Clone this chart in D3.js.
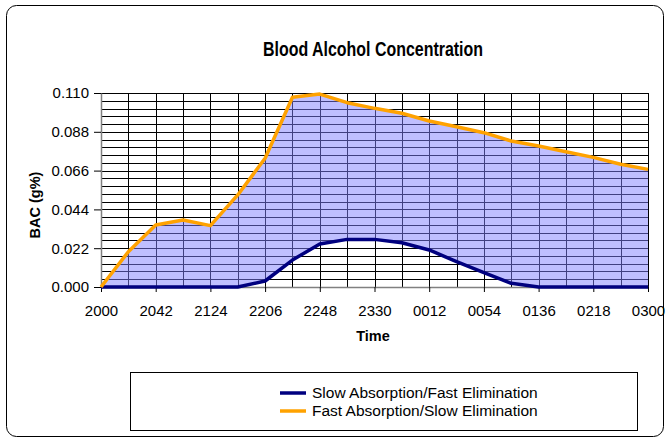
<!DOCTYPE html>
<html>
<head>
<meta charset="utf-8">
<script src="https://cdn.jsdelivr.net/npm/d3@7"></script>
<style>
  html, body { margin: 0; padding: 0; background: #fff; }
  svg { display: block; font-family: "Liberation Sans", Arial, sans-serif; }
</style>
</head>
<body>
<svg id="chart" width="668" height="441"></svg>
<script>
// categories (every 21 minutes from 2000 to 0300)
const times = ['2000', '2021', '2042', '2103', '2124', '2145', '2206', '2227', '2248', '2309',
               '2330', '2351', '0012', '0033', '0054', '0115', '0136', '0157', '0218', '0239', '0300'];

// series values (BAC g%)
const slowAbsFastElim = [0, 0, 0, 0, 0, 0, 0.0034, 0.0153, 0.0244, 0.0270,
                         0.0270, 0.0251, 0.0210, 0.0144, 0.0081, 0.0021, 0, 0, 0, 0, 0];
const fastAbsSlowElim = [0, 0.0200, 0.0352, 0.0380, 0.0348, 0.0522, 0.0730, 0.1076, 0.1094, 0.1045,
                         0.1013, 0.0985, 0.0941, 0.0909, 0.0875, 0.0828, 0.0799, 0.0767, 0.0735, 0.0696, 0.0667];

// tick labels
const xTickLabels = ['2000', '2042', '2124', '2206', '2248', '2330', '0012', '0054', '0136', '0218', '0300'];
const yTicks = [0, 0.022, 0.044, 0.066, 0.088, 0.110];

const seriesNames = ['Slow Absorption/Fast Elimination', 'Fast Absorption/Slow Elimination'];
const colors = ['#00007f', '#ffa200'];

const svg = d3.select('#chart');

// outer chart border
svg.append('rect')
    .attr('x', 6.5).attr('y', 5.5)
    .attr('width', 657).attr('height', 431)
    .attr('rx', 10).attr('ry', 10)
    .attr('fill', '#fff')
    .attr('stroke', '#000')
    .attr('stroke-width', 1);

// title
svg.append('text')
    .attr('x', 263).attr('y', 56)
    .attr('font-size', 21)
    .attr('font-weight', 'bold')
    .attr('textLength', 220)
    .attr('lengthAdjust', 'spacingAndGlyphs')
    .text('Blood Alcohol Concentration');

// scales
const xScale = d3.scalePoint().domain(times).range([101, 648]);
const yScale = d3.scaleLinear().domain([0, 0.11]).range([287, 93]);

// gridlines
const grid = svg.append('g').attr('id', 'grid');
grid.selectAll('line.h').data(d3.range(0, 0.1101, 0.0044)).enter()
    .append('line')
    .attr('x1', 101).attr('x2', 648)
    .attr('y1', function(d) {return Math.round(yScale(d)) + 0.5})
    .attr('y2', function(d) {return Math.round(yScale(d)) + 0.5})
    .attr('stroke', '#000')
    .attr('stroke-width', 1);
grid.selectAll('line.v').data(times).enter()
    .append('line')
    .attr('x1', function(d) {return Math.round(xScale(d)) + 0.5})
    .attr('x2', function(d) {return Math.round(xScale(d)) + 0.5})
    .attr('y1', 93).attr('y2', 287)
    .attr('stroke', '#000')
    .attr('stroke-width', 1);

// filled area between the two curves
const area = d3.area()
    .x(function(d, i) {return xScale(times[i])})
    .y0(function(d, i) {return yScale(slowAbsFastElim[i])})
    .y1(function(d) {return yScale(d)});
svg.append('path')
    .datum(fastAbsSlowElim)
    .attr('d', area)
    .attr('fill', '#8080ff')
    .attr('fill-opacity', 0.5);

// axes
const xAxis = svg.append('g')
    .attr('transform', 'translate(0,287)')
    .call(d3.axisBottom(xScale).tickValues(xTickLabels).tickSize(5).tickPadding(13).tickSizeOuter(0));
const yAxis = svg.append('g')
    .attr('transform', 'translate(101,0)')
    .call(d3.axisLeft(yScale).tickValues(yTicks).tickFormat(d3.format('.3f')).tickSize(7).tickPadding(5).tickSizeOuter(0));
[xAxis, yAxis].forEach(function(ax) {
    ax.select('.domain').attr('stroke', '#808080').attr('stroke-width', 1.5);
    ax.selectAll('.tick line').attr('stroke', '#000');
    ax.selectAll('.tick text').attr('font-size', 15).attr('fill', '#000')
        .attr('font-family', '"Liberation Sans", Arial, sans-serif');
});

// lines
const line = d3.line()
    .x(function(d, i) {return xScale(times[i])})
    .y(function(d) {return yScale(d)});
[slowAbsFastElim, fastAbsSlowElim].forEach(function(series, j) {
    svg.append('path')
        .datum(series)
        .attr('d', line)
        .attr('fill', 'none')
        .attr('stroke', colors[j])
        .attr('stroke-width', 3.5)
        .attr('stroke-linejoin', 'round');
});

// axis titles
svg.append('text')
    .attr('x', 373).attr('y', 341)
    .attr('text-anchor', 'middle')
    .attr('font-size', 14.5)
    .attr('font-weight', 'bold')
    .text('Time');
svg.append('text')
    .attr('transform', 'translate(40,205) rotate(-90)')
    .attr('text-anchor', 'middle')
    .attr('font-size', 14.5)
    .attr('font-weight', 'bold')
    .text('BAC (g%)');

// legend
svg.append('rect')
    .attr('x', 130.5).attr('y', 372.5)
    .attr('width', 507).attr('height', 58)
    .attr('fill', '#fff')
    .attr('stroke', '#000')
    .attr('stroke-width', 1);
const legend = svg.selectAll('g.legend-entry').data(seriesNames).enter()
    .append('g')
    .attr('class', 'legend-entry')
    .attr('transform', function(d, i) {return 'translate(280,' + (393 + i * 18) + ')'});
legend.append('line')
    .attr('x1', 0).attr('x2', 26)
    .attr('stroke', function(d, i) {return colors[i]})
    .attr('stroke-width', 3.5);
legend.append('text')
    .attr('x', 32).attr('dy', '0.35em')
    .attr('font-size', 15.5)
    .text(function(d) {return d});
</script>
</body>
</html>
